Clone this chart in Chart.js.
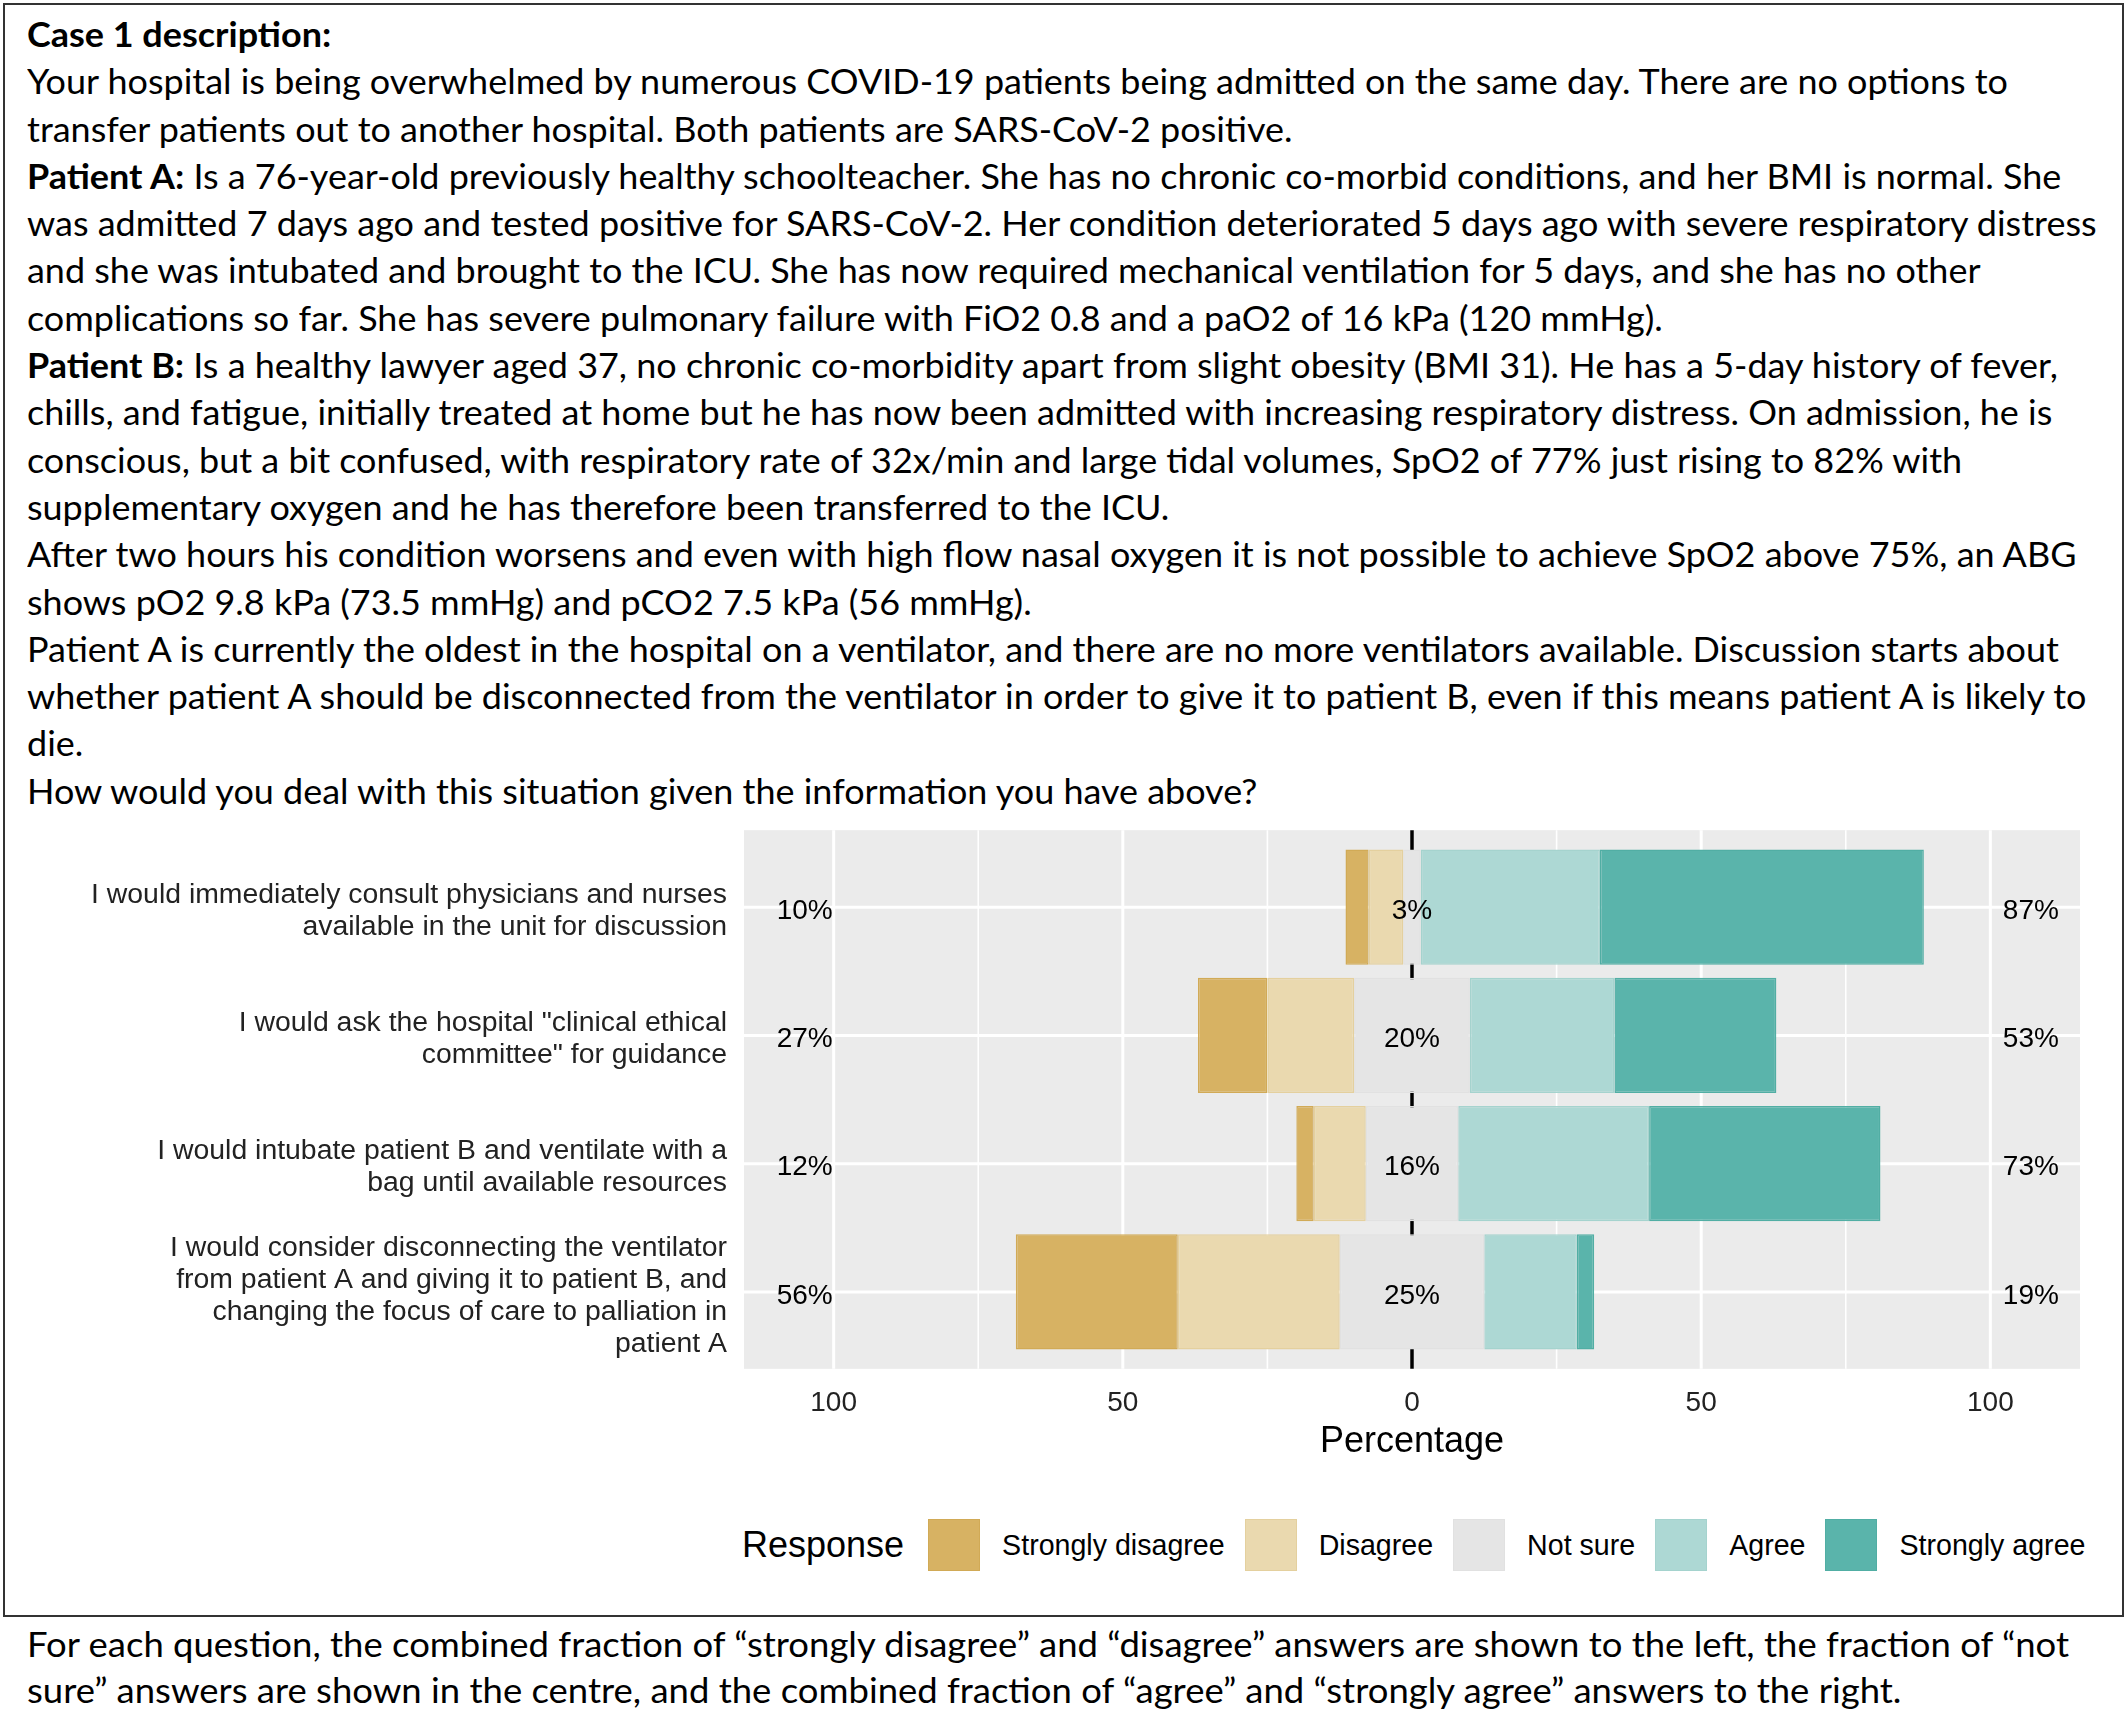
<!DOCTYPE html>
<html>
<head>
<meta charset="utf-8">
<script src="https://cdn.jsdelivr.net/npm/chart.js@4.4.0/dist/chart.umd.min.js"></script>
<style>
  html, body { margin: 0; padding: 0; background: #fff; }
  body { width: 2128px; height: 1713px; position: relative; overflow: hidden; }
  #frame { position: absolute; left: 3px; top: 3px; width: 2121px; height: 1614px; border: 2px solid #333; box-sizing: border-box; }
  .txt { position: absolute; left: 27px; font-family: Lato, "Open Sans", sans-serif; font-size: 35px; line-height: 47.3px; color: #000; white-space: nowrap; transform-origin: 0 0; }
  .txt span { display: inline-block; }
  #case { top: 10px; }
  #note { top: 1620px; line-height: 46px; }
  #chartBox { position: absolute; left: 0; top: 820px; width: 2128px; height: 650px; }
  #legend { position: absolute; left: 742px; top: 1519px; height: 52px; display: flex; align-items: center; font-family: "Liberation Sans", Arial, sans-serif; color: #000; white-space: nowrap; }
  #legend .ttl { font-size: 36px; margin-right: 24px; }
  #legend .box { width: 52px; height: 52px; box-sizing: border-box; border: 1px solid; }
  #legend .lab { font-size: 28.6px; margin-left: 22px; margin-right: 20px; }
</style>
</head>
<body>
<div id="frame"></div>

<div class="txt" id="case">
  <div><span><b>Case 1 description:</b></span></div>
  <div><span id="caseAnchor">Your hospital is being overwhelmed by numerous COVID-19 patients being admitted on the same day. There are no options to</span></div>
  <div><span>transfer patients out to another hospital. Both patients are SARS-CoV-2 positive.</span></div>
  <div><span><b>Patient A:</b> Is a 76-year-old previously healthy schoolteacher. She has no chronic co-morbid conditions, and her BMI is normal. She</span></div>
  <div><span>was admitted 7 days ago and tested positive for SARS-CoV-2. Her condition deteriorated 5 days ago with severe respiratory distress</span></div>
  <div><span>and she was intubated and brought to the ICU. She has now required mechanical ventilation for 5 days, and she has no other</span></div>
  <div><span>complications so far. She has severe pulmonary failure with FiO2 0.8 and a paO2 of 16 kPa (120 mmHg).</span></div>
  <div><span><b>Patient B:</b> Is a healthy lawyer aged 37, no chronic co-morbidity apart from slight obesity (BMI 31). He has a 5-day history of fever,</span></div>
  <div><span>chills, and fatigue, initially treated at home but he has now been admitted with increasing respiratory distress. On admission, he is</span></div>
  <div><span>conscious, but a bit confused, with respiratory rate of 32x/min and large tidal volumes, SpO2 of 77% just rising to 82% with</span></div>
  <div><span>supplementary oxygen and he has therefore been transferred to the ICU.</span></div>
  <div><span>After two hours his condition worsens and even with high flow nasal oxygen it is not possible to achieve SpO2 above 75%, an ABG</span></div>
  <div><span>shows pO2 9.8 kPa (73.5 mmHg) and pCO2 7.5 kPa (56 mmHg).</span></div>
  <div><span>Patient A is currently the oldest in the hospital on a ventilator, and there are no more ventilators available. Discussion starts about</span></div>
  <div><span>whether patient A should be disconnected from the ventilator in order to give it to patient B, even if this means patient A is likely to</span></div>
  <div><span>die.</span></div>
  <div><span>How would you deal with this situation given the information you have above?</span></div>
</div>

<div id="chartBox"><canvas id="likert" width="2128" height="650"></canvas></div>
<div id="legend"></div>

<div class="txt" id="note">
  <div><span id="noteAnchor">For each question, the combined fraction of “strongly disagree” and “disagree” answers are shown to the left, the fraction of “not</span></div>
  <div><span>sure” answers are shown in the centre, and the combined fraction of “agree” and “strongly agree” answers to the right.</span></div>
</div>

<script>
const questions = [
  ["I would immediately consult physicians and nurses", "available in the unit for discussion"],
  ["I would ask the hospital \"clinical ethical", "committee\" for guidance"],
  ["I would intubate patient B and ventilate with a", "bag until available resources"],
  ["I would consider disconnecting the ventilator", "from patient A and giving it to patient B, and", "changing the focus of care to palliation in", "patient A"]
];
const responses = ["Strongly disagree", "Disagree", "Not sure", "Agree", "Strongly agree"];
const stronglyDisagree = [4, 12, 3, 28];
const disagree = [6, 15, 9, 28];
const notSure = [3, 20, 16, 25];
const agree = [31, 25, 33, 16];
const stronglyAgree = [56, 28, 40, 3];
const xTicks = [-100, -50, 0, 50, 100];
const xMinor = [-75, -25, 25, 75];

const fills = ["#D7B263", "#EAD9AF", "#E5E5E5", "#ADD8D4", "#5AB4AB"];
const edges = ["#D1AA56", "#E4D09E", "#E1E1E1", "#A5D3CE", "#51AEA4"];
const FONT = "'Liberation Sans', Arial, sans-serif";

// start / end of each response segment, centred on "Not sure"
function segments(k) {
  return questions.map((q, i) => {
    const half = notSure[i] / 2;
    if (k === 0) return [-half - disagree[i] - stronglyDisagree[i], -half - disagree[i]];
    if (k === 1) return [-half - disagree[i], -half];
    if (k === 2) return [-half, half];
    if (k === 3) return [half, half + agree[i]];
    return [half + agree[i], half + agree[i] + stronglyAgree[i]];
  });
}

const panel = {
  id: "panel",
  beforeDatasetsDraw(chart) {
    const { ctx, chartArea: a, scales: { x, y } } = chart;
    const ext = (a.bottom - a.top) / questions.length * 0.1;
    const top = a.top - ext, bottom = a.bottom + ext;
    ctx.save();
    ctx.fillStyle = "#EBEBEB";
    ctx.fillRect(a.left, top, a.right - a.left, bottom - top);
    ctx.strokeStyle = "#fff";
    const vline = (v, w) => {
      const px = x.getPixelForValue(v);
      ctx.lineWidth = w;
      ctx.beginPath(); ctx.moveTo(px, top); ctx.lineTo(px, bottom); ctx.stroke();
    };
    xMinor.forEach((v) => vline(v, 1.6));
    xTicks.forEach((v) => vline(v, 3));
    questions.forEach((q, i) => {
      const py = y.getPixelForValue(i);
      ctx.lineWidth = 3;
      ctx.beginPath(); ctx.moveTo(a.left, py); ctx.lineTo(a.right, py); ctx.stroke();
    });
    ctx.strokeStyle = "#000";
    vline(0, 3.5);
    ctx.restore();
  },
  afterDatasetsDraw(chart) {
    const { ctx, scales: { x, y } } = chart;
    ctx.save();
    ctx.fillStyle = "#000";
    ctx.font = "28px " + FONT;
    ctx.textAlign = "center";
    ctx.textBaseline = "middle";
    questions.forEach((q, i) => {
      const py = y.getPixelForValue(i) + 4;
      const left = stronglyDisagree[i] + disagree[i];
      const right = agree[i] + stronglyAgree[i];
      ctx.fillText(Math.round(left) + "%", x.getPixelForValue(-105), py);
      ctx.fillText(Math.round(notSure[i]) + "%", x.getPixelForValue(0), py);
      ctx.fillText(Math.round(right) + "%", x.getPixelForValue(107), py);
    });
    ctx.restore();
  }
};

function noPad(scale) {
  scale.paddingTop = 0;
  scale.paddingBottom = 0;
  scale.paddingLeft = 0;
  scale.paddingRight = 0;
}

new Chart(document.getElementById("likert"), {
  type: "bar",
  data: {
    labels: questions,
    datasets: responses.map((r, k) => ({
      label: r,
      data: segments(k),
      backgroundColor: fills[k],
      borderColor: edges[k],
      borderWidth: 1.5,
      borderSkipped: false,
      grouped: false,
      categoryPercentage: 1,
      barPercentage: 0.9
    }))
  },
  options: {
    indexAxis: "y",
    responsive: false,
    animation: false,
    devicePixelRatio: 1,
    layout: { padding: { top: 23, right: 48, bottom: 0, left: 0 } },
    plugins: { legend: { display: false }, tooltip: { enabled: false } },
    scales: {
      x: {
        type: "linear",
        min: -115.5,
        max: 115.5,
        afterBuildTicks: (scale) => { scale.ticks = xTicks.map((v) => ({ value: v })); },
        afterFit: (scale) => { scale.height = 114; noPad(scale); },
        grid: { display: false, drawTicks: false },
        border: { display: false },
        ticks: {
          padding: 30,
          color: "#222",
          font: { family: FONT, size: 28 },
          callback: (v) => Math.abs(v)
        },
        title: {
          display: true,
          text: "Percentage",
          color: "#000",
          font: { family: FONT, size: 36 },
          padding: { top: 0, bottom: 6 }
        }
      },
      y: {
        afterFit: (scale) => { scale.width = 744; noPad(scale); },
        grid: { display: false, drawTicks: false },
        border: { display: false },
        ticks: {
          autoSkip: false,
          padding: 17,
          labelOffset: 4,
          color: "#222",
          font: { family: FONT, size: 28.4, lineHeight: 1.13 }
        }
      }
    }
  },
  plugins: [panel]
});

// legend
const legend = document.getElementById("legend");
legend.innerHTML = '<span class="ttl">Response</span>' + responses.map((r, k) =>
  '<span class="box" style="background:' + fills[k] + ';border-color:' + edges[k] + '"></span>' +
  '<span class="lab">' + r + '</span>').join("");

// squeeze the text blocks to the width of the original lines
function fit(blockId, anchorId, target) {
  const w = document.getElementById(anchorId).getBoundingClientRect().width;
  document.getElementById(blockId).style.transform = "scaleX(" + (target / w) + ")";
}
document.fonts.ready.then(() => {
  fit("case", "caseAnchor", 1981);
  fit("note", "noteAnchor", 2042);
});
</script>
</body>
</html>
